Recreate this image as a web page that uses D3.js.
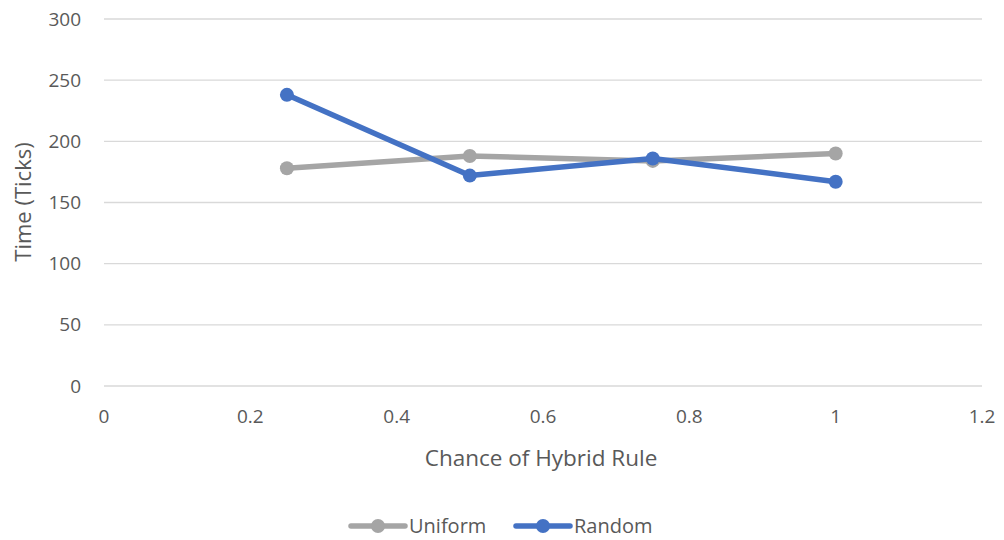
<!DOCTYPE html>
<html><head><meta charset="utf-8">
<script src="https://cdn.jsdelivr.net/npm/d3@7"></script>
<style>body{margin:0;background:#fff;} svg{display:block;}</style>
</head><body>
<svg id="c" width="1004" height="540"></svg>
<script>
const xValues = [0.25, 0.5, 0.75, 1];
const uniform = [178, 188, 184, 190];
const random = [238, 172, 186, 167];
const xTicks = [0, 0.2, 0.4, 0.6, 0.8, 1, 1.2];
const yTicks = [0, 50, 100, 150, 200, 250, 300];
const seriesNames = ["Uniform", "Random"];
const colors = ["#A5A5A5", "#4472C4"];

const svg = d3.select("#c");
const font = "'Open Sans', 'Liberation Sans', sans-serif";
const x = d3.scaleLinear().domain([0, 1.2]).range([104, 982]);
const y = d3.scaleLinear().domain([0, 300]).range([386, 19]);

// gridlines
svg.append("g").selectAll("line").data(yTicks).join("line")
  .attr("x1", x(0)).attr("x2", x(1.2))
  .attr("y1", d => y(d)).attr("y2", d => y(d))
  .attr("stroke", "#d9d9d9").attr("stroke-width", 1.3);

// y tick labels
svg.append("g").selectAll("text").data(yTicks).join("text")
  .attr("x", 81).attr("y", d => y(d)).attr("dy", "0.35em")
  .attr("text-anchor", "end").attr("font-family", font).attr("font-size", 19)
  .attr("fill", "#595959").text(d => d);

// x tick labels
svg.append("g").selectAll("text").data(xTicks).join("text")
  .attr("x", d => x(d)).attr("y", 423)
  .attr("text-anchor", "middle").attr("font-family", font).attr("font-size", 19)
  .attr("fill", "#595959").text(d => d);

// axis titles
svg.append("text").attr("transform", "translate(31,202) rotate(-90)")
  .attr("text-anchor", "middle").attr("font-family", font).attr("font-size", 22)
  .attr("fill", "#595959").text("Time (Ticks)");
svg.append("text").attr("x", 541).attr("y", 466)
  .attr("text-anchor", "middle").attr("font-family", font).attr("font-size", 22.5)
  .attr("fill", "#595959").text("Chance of Hybrid Rule");

const line = d3.line().x(d => x(d[0])).y(d => y(d[1]));
[uniform, random].forEach((vals, i) => {
  const pts = xValues.map((xv, j) => [xv, vals[j]]);
  const g = svg.append("g");
  g.append("path").attr("d", line(pts)).attr("fill", "none")
    .attr("stroke", colors[i]).attr("stroke-width", 5.5).attr("stroke-linejoin", "round");
  g.selectAll("circle").data(pts).join("circle")
    .attr("cx", d => x(d[0])).attr("cy", d => y(d[1])).attr("r", 7)
    .attr("fill", colors[i]);
});

// legend
const legX = [351, 516];
seriesNames.forEach((name, i) => {
  const g = svg.append("g").attr("transform", `translate(${legX[i]},526)`);
  g.append("line").attr("x1", 0).attr("x2", 54).attr("y1", 0).attr("y2", 0)
    .attr("stroke", colors[i]).attr("stroke-width", 5.5).attr("stroke-linecap", "round");
  g.append("circle").attr("cx", 27).attr("cy", 0).attr("r", 7).attr("fill", colors[i]);
  g.append("text").attr("x", 58).attr("y", 0).attr("dy", "0.36em")
    .attr("font-family", font).attr("font-size", 20).attr("fill", "#595959").text(name);
});
</script>
</body></html>
